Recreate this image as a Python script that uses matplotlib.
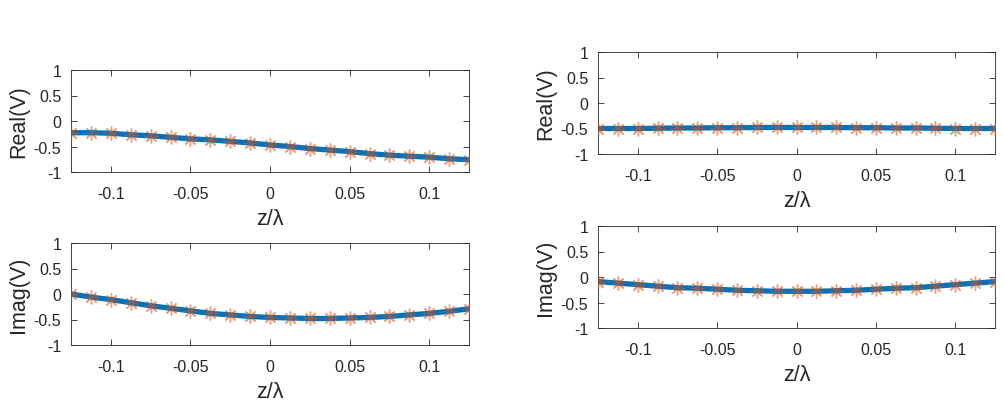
import numpy as np
import matplotlib.pyplot as plt

# z/lambda sample positions (21 points)
z = [-0.125, -0.1125, -0.1, -0.0875, -0.075, -0.0625, -0.05, -0.0375, -0.025, -0.0125,
     0.0, 0.0125, 0.025, 0.0375, 0.05, 0.0625, 0.075, 0.0875, 0.1, 0.1125, 0.125]

# left column
real_left = [-0.23, -0.23, -0.24, -0.27, -0.29, -0.32, -0.35, -0.37, -0.40, -0.43,
             -0.47, -0.50, -0.54, -0.57, -0.60, -0.64, -0.67, -0.69, -0.71, -0.74, -0.76]
imag_left = [0.0, -0.06, -0.11, -0.17, -0.23, -0.28, -0.33, -0.38, -0.41, -0.44,
             -0.46, -0.47, -0.48, -0.48, -0.47, -0.46, -0.44, -0.41, -0.38, -0.34, -0.29]

# right column
real_right = [-0.50, -0.50, -0.50, -0.495, -0.49, -0.49, -0.485, -0.485, -0.48, -0.48,
              -0.48, -0.48, -0.48, -0.485, -0.485, -0.49, -0.49, -0.495, -0.50, -0.50, -0.50]
imag_right = [-0.09, -0.12, -0.15, -0.18, -0.21, -0.22, -0.24, -0.26, -0.27, -0.28,
              -0.28, -0.28, -0.27, -0.26, -0.24, -0.22, -0.21, -0.18, -0.15, -0.12, -0.09]

xticks = [-0.1, -0.05, 0, 0.05, 0.1]
xticklabels = ['-0.1', '-0.05', '0', '0.05', '0.1']
yticks = [-1, -0.5, 0, 0.5, 1]
yticklabels = ['-1', '-0.5', '0', '0.5', '1']

plt.rcParams['font.family'] = ['Liberation Sans', 'DejaVu Sans']

W, H = 1004, 402
fig = plt.figure(figsize=(W / 100, H / 100), dpi=100)

# axes boxes in pixels: left, top, right, bottom
boxes = [
    (71, 71, 469, 173, real_left, 'Real(V)'),
    (71, 244, 469, 346, imag_left, 'Imag(V)'),
    (598, 53, 995, 155, real_right, 'Real(V)'),
    (598, 227, 995, 329, imag_right, 'Imag(V)'),
]

ax_col = '#262626'
for l, t, r, b, vals, ylab in boxes:
    ax = fig.add_axes([l / W, 1 - b / H, (r - l) / W, (b - t) / H])
    ax.plot(z, vals, color='#0072BD', linewidth=3.8, zorder=2)
    # MATLAB-style asterisk marker (8 arms)
    ax.plot(z, vals, linestyle='none', marker=(8, 2, 0), markersize=10, color='#D95319',
            markeredgewidth=1.0, alpha=0.55, zorder=3)
    ax.set_xlim(-0.125, 0.125)
    ax.set_ylim(-1, 1)
    ax.set_xticks(xticks)
    ax.set_xticklabels(xticklabels)
    ax.set_yticks(yticks)
    ax.set_yticklabels(yticklabels)
    ax.tick_params(direction='in', length=4, width=0.6, top=True, right=True,
                   labelsize=11.5, colors=ax_col)
    ax.tick_params(axis='x', pad=10)
    ax.tick_params(axis='y', pad=7)
    for s in ax.spines.values():
        s.set_linewidth(0.6)
        s.set_color(ax_col)
    ax.set_xlabel('z/λ', fontsize=15.5, color=ax_col, labelpad=5)
    ax.set_ylabel(ylab, fontsize=15.5, color=ax_col, labelpad=3)

fig.savefig('out.png', dpi=100)
